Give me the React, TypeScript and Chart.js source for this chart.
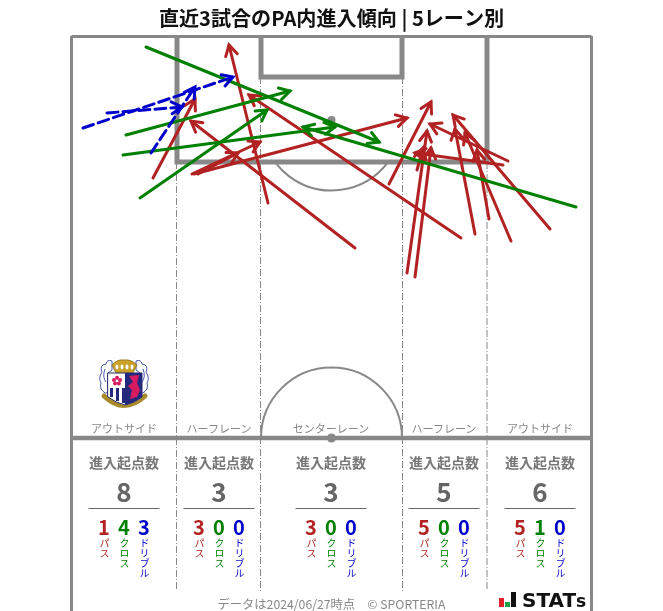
import React, { useEffect, useRef } from "react";
import { Chart, registerables } from "chart.js";

Chart.register(...registerables);

const TITLE = "直近3試合のPA内進入傾向 | 5レーン別";
const FOOTER = "データは2024/06/27時点　© SPORTERIA";

// Arrows as [startX, startY, endX, endY] in pitch units
const passArrows = [
  [153, 178, 195, 99],
  [192, 174, 260, 142],
  [194, 174, 407, 118],
  [198, 174, 238, 153],
  [268, 203, 229, 45],
  [355, 248, 191, 121],
  [389, 184, 431, 102],
  [461, 238, 249, 95],
  [407, 273, 427, 131],
  [415, 277, 431, 148],
  [475, 234, 455, 129],
  [417, 170, 423, 148],
  [489, 219, 477, 150],
  [511, 241, 465, 133],
  [550, 229, 453, 115],
  [503, 165, 415, 153],
  [508, 161, 430, 124],
];
const crossArrows = [
  [146, 47, 379, 142],
  [126, 135, 290, 91],
  [140, 198, 267, 110],
  [123, 155, 335, 127],
  [576, 207, 303, 127],
];
const dribbleArrows = [
  [83, 128, 233, 77],
  [107, 113, 182, 107],
  [151, 153, 195, 87],
];

const laneLabels = ["アウトサイド", "ハーフレーン", "センターレーン", "ハーフレーン", "アウトサイド"];
const laneCentres = [124, 219, 331, 444, 540];
const laneTotals = [8, 3, 3, 5, 6];
const lanePasses = [1, 3, 3, 5, 5];
const laneCrosses = [4, 0, 0, 0, 1];
const laneDribbles = [3, 0, 0, 0, 0];

const RED = "#b22222";
const GREEN = "#008000";
const BLUE = "#0000cd";
const GREY = "#888888";
const FONT = '"Noto Sans CJK JP", "Noto Sans", sans-serif';

const makeDatasets = (arrows: number[][], color: string, order: number, dash: number[]) =>
  arrows.map((a) => ({
    data: [
      { x: a[0], y: a[1] },
      { x: a[2], y: a[3] },
    ],
    borderColor: color,
    borderWidth: 3,
    borderCapStyle: "round",
    borderDash: dash,
    pointRadius: 0,
    showLine: true,
    fill: false,
    order,
  }));

const pitchPlugin = {
  id: "pitch",
  beforeDatasetsDraw(chart: any) {
    const { ctx, scales } = chart;
    const X = (v: number) => scales.x.getPixelForValue(v);
    const Y = (v: number) => scales.y.getPixelForValue(v);
    const seg = (x0: number, y0: number, x1: number, y1: number) => {
      ctx.beginPath();
      ctx.moveTo(X(x0), Y(y0));
      ctx.lineTo(X(x1), Y(y1));
      ctx.stroke();
    };
    ctx.save();
    ctx.strokeStyle = GREY;
    ctx.fillStyle = GREY;
    ctx.lineCap = "butt";

    // lane separators
    ctx.lineWidth = 1;
    ctx.setLineDash([7, 2, 1, 2]);
    seg(176.5, 162, 176.5, 591);
    seg(260.5, 77, 260.5, 591);
    seg(402.5, 77, 402.5, 591);
    seg(487, 162, 487, 591);
    ctx.setLineDash([]);

    // outer touch lines and top
    ctx.lineWidth = 3;
    seg(71.5, 36.5, 591.5, 36.5);
    seg(71.5, 36, 71.5, 611);
    seg(591.5, 36, 591.5, 611);

    // halfway line
    ctx.lineWidth = 4.5;
    seg(71, 438, 592, 438);

    // penalty box and goal area
    ctx.lineWidth = 5;
    ctx.lineJoin = "miter";
    ctx.beginPath();
    ctx.moveTo(X(177), Y(36));
    ctx.lineTo(X(177), Y(162));
    ctx.lineTo(X(487), Y(162));
    ctx.lineTo(X(487), Y(36));
    ctx.stroke();
    ctx.beginPath();
    ctx.moveTo(X(261), Y(36));
    ctx.lineTo(X(261), Y(77));
    ctx.lineTo(X(402), Y(77));
    ctx.lineTo(X(402), Y(36));
    ctx.stroke();

    // penalty arc and centre circle
    ctx.lineWidth = 2;
    ctx.beginPath();
    ctx.arc(X(331.5), Y(120), 70.5, 0.65, Math.PI - 0.65);
    ctx.stroke();
    ctx.beginPath();
    ctx.arc(X(331.5), Y(438), 70.5, Math.PI, 2 * Math.PI);
    ctx.stroke();

    // spots
    ctx.beginPath();
    ctx.arc(X(331.5), Y(120), 4, 0, 2 * Math.PI);
    ctx.fill();
    ctx.beginPath();
    ctx.arc(X(331.5), Y(438), 4.5, 0, 2 * Math.PI);
    ctx.fill();

    // underlines in the summary
    ctx.strokeStyle = "#666666";
    ctx.lineWidth = 1;
    laneCentres.forEach((c) => seg(c - 35.5, 508.5, c + 35.5, 508.5));

    drawCrest(ctx, X(124), Y(385));
    drawLogo(ctx, X(499), Y(607));
    ctx.restore();
  },
};

function drawCrest(ctx: CanvasRenderingContext2D, cx: number, cy: number) {
  ctx.save();
  ctx.translate(cx, cy);
  // supporters, thin blue outlines
  ctx.strokeStyle = "#4a58aa";
  ctx.fillStyle = "#ffffff";
  ctx.lineWidth = 1;
  [-1, 1].forEach((s) => {
    ctx.beginPath();
    ctx.moveTo(s * 12, -24);
    ctx.quadraticCurveTo(s * 17, -26, s * 18, -21);
    ctx.quadraticCurveTo(s * 25, -20, s * 22, -13);
    ctx.quadraticCurveTo(s * 26, -7, s * 23, -2);
    ctx.quadraticCurveTo(s * 25, 4, s * 19, 8);
    ctx.lineTo(s * 16, 8);
    ctx.lineTo(s * 16, -12);
    ctx.lineTo(s * 12, -15);
    ctx.closePath();
    ctx.fill();
    ctx.stroke();
    ctx.beginPath();
    ctx.moveTo(s * 19, -16);
    ctx.quadraticCurveTo(s * 22, -8, s * 18, -3);
    ctx.stroke();
  });
  // banner
  ctx.strokeStyle = "#a88a2a";
  ctx.lineWidth = 5;
  ctx.lineCap = "round";
  ctx.beginPath();
  ctx.moveTo(-20, 11);
  ctx.quadraticCurveTo(0, 30, 21, 11);
  ctx.stroke();
  // crown
  ctx.fillStyle = "#c9a227";
  ctx.strokeStyle = "#7d6412";
  ctx.lineWidth = 0.7;
  ctx.beginPath();
  ctx.moveTo(-8, -12);
  ctx.lineTo(-12, -20);
  ctx.quadraticCurveTo(-7, -26, 0, -25);
  ctx.quadraticCurveTo(7, -26, 13, -20);
  ctx.lineTo(9, -12);
  ctx.closePath();
  ctx.fill();
  ctx.stroke();
  ctx.fillStyle = "#ffffff";
  [-7, -2, 3, 8].forEach((x) => {
    ctx.beginPath();
    ctx.ellipse(x, -18, 1.5, 2.4, 0, 0, 2 * Math.PI);
    ctx.fill();
  });
  // shield
  ctx.fillStyle = "#ffffff";
  ctx.strokeStyle = "#222a66";
  ctx.lineWidth = 1;
  ctx.beginPath();
  ctx.moveTo(-16, -12);
  ctx.lineTo(18, -12);
  ctx.lineTo(18, 12);
  ctx.quadraticCurveTo(10, 18, 1, 20);
  ctx.quadraticCurveTo(-8, 18, -16, 12);
  ctx.closePath();
  ctx.fill();
  ctx.stroke();
  // navy right half
  ctx.fillStyle = "#25297e";
  ctx.beginPath();
  ctx.moveTo(1, -12);
  ctx.lineTo(18, -12);
  ctx.lineTo(18, 12);
  ctx.quadraticCurveTo(10, 18, 1, 20);
  ctx.closePath();
  ctx.fill();
  // lion
  ctx.fillStyle = "#d81b60";
  ctx.beginPath();
  ctx.moveTo(5, -9);
  ctx.lineTo(15, -10);
  ctx.lineTo(13, -2);
  ctx.lineTo(16, 5);
  ctx.lineTo(13, 12);
  ctx.lineTo(6, 14);
  ctx.lineTo(8, 5);
  ctx.lineTo(4, 1);
  ctx.lineTo(9, -3);
  ctx.closePath();
  ctx.fill();
  // stripes
  ctx.fillStyle = "#25297e";
  ctx.fillRect(-14, 3, 3, 9);
  ctx.fillRect(-8, 3, 3, 13);
  ctx.fillRect(-2, 3, 3, 15);
  // blossom
  ctx.fillStyle = "#d81b60";
  for (let i = 0; i < 5; i++) {
    const a = (i * 2 * Math.PI) / 5 - Math.PI / 2;
    ctx.beginPath();
    ctx.arc(-7 + Math.cos(a) * 3.2, -4 + Math.sin(a) * 3.2, 2, 0, 2 * Math.PI);
    ctx.fill();
  }
  ctx.restore();
}

function drawLogo(ctx: CanvasRenderingContext2D, x: number, bottom: number) {
  ctx.save();
  ctx.fillStyle = "#e0202a";
  ctx.fillRect(x, bottom - 9, 5, 9);
  ctx.fillStyle = "#1fa045";
  ctx.fillRect(x + 6, bottom - 5, 5, 5);
  ctx.fillStyle = "#111111";
  ctx.fillRect(x + 12, bottom - 15, 5, 15);
  ctx.restore();
}

const arrowPlugin = {
  id: "arrowHeads",
  afterDatasetDraw(chart: any, args: any) {
    const ds = chart.data.datasets[args.index];
    const meta = chart.getDatasetMeta(args.index);
    const [p0, p1] = meta.data;
    const ang = Math.atan2(p1.y - p0.y, p1.x - p0.x);
    const len = 12;
    const wing = 0.52;
    const { ctx } = chart;
    ctx.save();
    ctx.strokeStyle = ds.borderColor;
    ctx.lineWidth = 3;
    ctx.lineCap = "round";
    ctx.lineJoin = "miter";
    ctx.setLineDash([]);
    ctx.beginPath();
    ctx.moveTo(p1.x - len * Math.cos(ang - wing), p1.y - len * Math.sin(ang - wing));
    ctx.lineTo(p1.x, p1.y);
    ctx.lineTo(p1.x - len * Math.cos(ang + wing), p1.y - len * Math.sin(ang + wing));
    ctx.stroke();
    ctx.restore();
  },
};

const abs = (left: number, top: number, extra: React.CSSProperties = {}): React.CSSProperties => ({
  position: "absolute",
  left,
  top,
  transform: "translate(-50%, -50%)",
  whiteSpace: "nowrap",
  fontFamily: FONT,
  ...extra,
});

const vertical = (left: number, top: number, color: string): React.CSSProperties => ({
  position: "absolute",
  left: left - 6,
  top,
  width: 12,
  writingMode: "vertical-rl",
  fontFamily: FONT,
  fontSize: 10,
  lineHeight: "12px",
  color,
  whiteSpace: "nowrap",
});

export default function App() {
  const ref = useRef<HTMLCanvasElement>(null);
  useEffect(() => {
    const chart = new Chart(ref.current as HTMLCanvasElement, {
      type: "scatter",
      data: {
        datasets: [
          ...makeDatasets(passArrows, RED, 3, []),
          ...makeDatasets(crossArrows, GREEN, 2, []),
          ...makeDatasets(dribbleArrows, BLUE, 1, [11, 5]),
        ] as any,
      },
      options: {
        responsive: false,
        animation: false,
        layout: { padding: 0 },
        scales: {
          x: { type: "linear", display: false, min: 0, max: 663 },
          y: { type: "linear", display: false, min: 36, max: 611, reverse: true },
        },
        plugins: {
          legend: { display: false },
          tooltip: { enabled: false },
          title: {
            display: true,
            text: TITLE,
            color: "#111111",
            font: { family: FONT, size: 20.1, weight: "bold", lineHeight: 1.2 },
            padding: { top: 6, bottom: 5.88 },
          },
        },
      },
      plugins: [pitchPlugin, arrowPlugin],
    } as any);
    return () => chart.destroy();
  }, []);

  return (
    <div style={{ position: "absolute", left: 0, top: 0, width: 663, height: 611, overflow: "hidden", background: "#fff" }}>
      <canvas ref={ref} width={663} height={611} style={{ position: "absolute", left: 0, top: 0 }} />
      {laneCentres.map((c, i) => (
        <React.Fragment key={i}>
          <div style={abs(c, 428, { fontSize: 11, color: GREY })}>{laneLabels[i]}</div>
          <div style={abs(c, 461.5, { fontSize: 14, fontWeight: 700, color: "#777777" })}>進入起点数</div>
          <div style={abs(c, 489.5, { fontSize: 26, fontWeight: 700, color: "#666666" })}>{laneTotals[i]}</div>
          <div style={abs(c - 20, 525.5, { fontSize: 20, fontWeight: 700, color: RED })}>{lanePasses[i]}</div>
          <div style={abs(c, 525.5, { fontSize: 20, fontWeight: 700, color: GREEN })}>{laneCrosses[i]}</div>
          <div style={abs(c + 20, 525.5, { fontSize: 20, fontWeight: 700, color: BLUE })}>{laneDribbles[i]}</div>
          <div style={vertical(c - 20, 538, RED)}>パス</div>
          <div style={vertical(c, 538, GREEN)}>クロス</div>
          <div style={vertical(c + 20, 538, BLUE)}>ドリブル</div>
        </React.Fragment>
      ))}
      <div style={abs(331.5, 603.5, { fontSize: 12.25, color: GREY })}>{FOOTER}</div>
      <div style={{ position: "absolute", left: 522, top: 588, fontFamily: '"DejaVu Sans", sans-serif', fontWeight: 700, fontSize: 20, lineHeight: "24px", color: "#111111", whiteSpace: "nowrap" }}>
        STAT<span style={{ fontSize: 17 }}>s</span>
      </div>
    </div>
  );
}
